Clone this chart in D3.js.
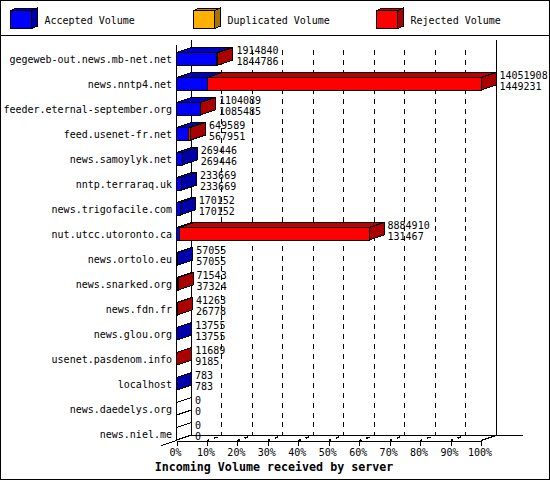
<!DOCTYPE html>
<html lang="en">
<head>
<meta charset="UTF-8">
<title>Incoming Volume received by server</title>
<script src="https://d3js.org/d3.v7.min.js"></script>
<style>
  html, body { margin: 0; padding: 0; background: #fff; }
  svg { display: block; }
  text { font-family: "DejaVu Sans Mono", monospace; font-size: 10px; fill: #000; }
  .title { font-weight: bold; font-size: 11.67px; }
  .shape { stroke: #000; stroke-width: 1; shape-rendering: crispEdges; }
</style>
</head>
<body>
<svg id="chart" width="550" height="480"></svg>
<script>
const hosts = ["gegeweb-out.news.mb-net.net", "news.nntp4.net", "feeder.eternal-september.org",
  "feed.usenet-fr.net", "news.samoylyk.net", "nntp.terraraq.uk", "news.trigofacile.com",
  "nut.utcc.utoronto.ca", "news.ortolo.eu", "news.snarked.org", "news.fdn.fr", "news.glou.org",
  "usenet.pasdenom.info", "localhost", "news.daedelys.org", "news.niel.me"];
const totalVolume = [1914840, 14051908, 1104089, 649589, 269446, 233669, 170152, 8884910,
  57055, 71543, 41263, 13755, 11689, 783, 0, 0];
const acceptedVolume = [1844786, 1449231, 1085485, 567951, 269446, 233669, 170152, 131467,
  57055, 37324, 26778, 13755, 9185, 783, 0, 0];
const legendNames = ["Accepted Volume", "Duplicated Volume", "Rejected Volume"];
const percentTicks = [0, 10, 20, 30, 40, 50, 60, 70, 80, 90, 100];

const blue = {front: "#0000ff", top: "#0000c0", side: "#0000aa"};
const orange = {front: "#ffb000", top: "#c08400", side: "#a87400"};
const red = {front: "#ff0000", top: "#c00000", side: "#aa0000"};

const depthX = 15, depthY = 5, barHeight = 12.5;
const svg = d3.select("#chart");

const x = d3.scaleLinear().domain([0, d3.max(totalVolume)]).range([176.5, 481]);
const pct = d3.scaleLinear().domain([0, 100]).range([176.5, 481]);
const y = d3.scaleBand().domain(hosts).range([40, 440]);

function poly(parent, pts, fill) {
  return parent.append("polygon")
    .attr("class", "shape")
    .attr("points", pts.map(p => p.join(",")).join(" "))
    .attr("fill", fill);
}

function line(parent, x1, y1, x2, y2) {
  return parent.append("line")
    .attr("class", "shape")
    .attr("x1", x1).attr("y1", y1).attr("x2", x2).attr("y2", y2);
}

// frame and legend
svg.append("rect").attr("class", "shape").attr("fill", "#fff")
  .attr("x", 0.5).attr("y", 0.5).attr("width", 549).attr("height", 479);
line(svg, 0, 35.5, 550, 35.5);

const legendX = [10.5, 193.5, 376.5];
[blue, orange, red].forEach(function(c, i) {
  const g = svg.append("g").attr("transform", "translate(" + legendX[i] + ",10.5)");
  poly(g, [[0, 0], [6, -2.5], [27, -2.5], [21, 0]], c.top);
  poly(g, [[21, 0], [27, -2.5], [27, 15.5], [21, 18]], c.side);
  poly(g, [[0, 0], [21, 0], [21, 18], [0, 18]], c.front);
  g.append("text").attr("x", 34).attr("y", 13).text(legendNames[i]);
});

// back grid
percentTicks.slice(1, -1).forEach(function(p) {
  line(svg, pct(p) + depthX, 50, pct(p) + depthX, 435).attr("stroke-dasharray", "5,4.8");
});

// walls and floor
line(svg, pct(0) + depthX, 40, pct(0) + depthX, 435.5);
line(svg, pct(100) + depthX, 40, pct(100) + depthX, 435.5);
line(svg, pct(0) + depthX, 435.5, 523, 435.5);
line(svg, pct(100), 440.5, pct(100) + depthX, 435.5);
line(svg, pct(0) - depthX, 445.5, pct(0), 440.5);

// dashed floor lines
percentTicks.slice(1, -1).forEach(function(p) {
  line(svg, pct(p), 440.5, pct(p) + depthX, 435.5)
    .attr("stroke-dasharray", "2.5,5,3.5,10")
    .style("stroke-width", 1.5);
});

// bars
hosts.forEach(function(host, i) {
  const bottom = y(host) + y.bandwidth();
  const top = bottom - barHeight;
  const x0 = x(0), xa = x(acceptedVolume[i]), xt = x(totalVolume[i]);
  const rejected = totalVolume[i] > acceptedVolume[i];
  const g = svg.append("g");

  if (totalVolume[i] === 0) {
    poly(g, [[x0, top], [x0 + depthX, top - depthY], [x0 + depthX, bottom - depthY], [x0, bottom]], "#fff");
    return;
  }
  poly(g, [[x0, top], [x0 + depthX, top - depthY], [xa + depthX, top - depthY], [xa, top]], blue.top);
  if (rejected) poly(g, [[xa, top], [xa + depthX, top - depthY], [xt + depthX, top - depthY], [xt, top]], red.top);
  poly(g, [[xt, top], [xt + depthX, top - depthY], [xt + depthX, bottom - depthY], [xt, bottom]], rejected ? red.side : blue.side);
  g.append("rect").attr("class", "shape").attr("fill", blue.front)
    .attr("x", x0).attr("y", top).attr("width", xa - x0).attr("height", barHeight);
  if (rejected) g.append("rect").attr("class", "shape").attr("fill", red.front)
    .attr("x", xa).attr("y", top).attr("width", xt - xa).attr("height", barHeight);
});

// front axis, drawn over the bars
line(svg, pct(0), 45, pct(0), 440.5);
svg.append("g")
  .attr("transform", "translate(0,440.5)")
  .call(d3.axisBottom(pct).tickValues(percentTicks).tickFormat(d => d + "%").tickSize(5).tickPadding(3))
  .call(g => g.select(".domain").attr("stroke", "#000").attr("shape-rendering", "crispEdges"))
  .call(g => g.selectAll("line").attr("stroke", "#000").attr("shape-rendering", "crispEdges"))
  .call(g => g.selectAll("text").attr("dx", -1.5)
    .attr("style", "font-family:'DejaVu Sans Mono',monospace;font-size:10px"));

// labels
svg.append("g").selectAll("text").data(hosts).join("text")
  .attr("x", 172).attr("text-anchor", "end")
  .attr("y", d => y(d) + 23)
  .text(d => d);

hosts.forEach(function(host, i) {
  const bottom = y(host) + y.bandwidth();
  const lx = x(totalVolume[i]) + depthX + 3.5;
  svg.append("text").attr("x", lx).attr("y", bottom - 11).text(totalVolume[i]);
  svg.append("text").attr("x", lx).attr("y", bottom).text(acceptedVolume[i]);
});

svg.append("text").attr("class", "title").attr("x", 274).attr("y", 471)
  .attr("text-anchor", "middle").text("Incoming Volume received by server");
</script>
</body>
</html>
